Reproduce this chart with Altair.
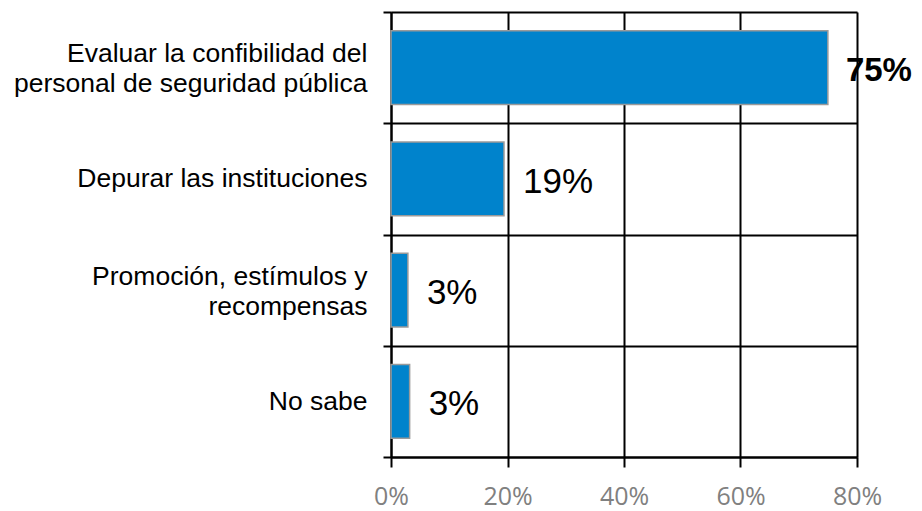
import altair as alt
import pandas as pd

categories = [
    "Evaluar la confibilidad del\npersonal de seguridad pública",
    "Depurar las instituciones",
    "Promoción, estímulos y\nrecompensas",
    "No sabe",
]
values = [0.75, 0.194, 0.029, 0.032]
x_ticks = [0, 0.2, 0.4, 0.6, 0.8]

df = pd.DataFrame({"cat": categories, "val": values})

y_enc = alt.Y(
    "cat:N",
    sort=categories,
    scale=alt.Scale(paddingInner=0, paddingOuter=0),
    axis=alt.Axis(
        title=None,
        labelExpr="datum.value ? split(datum.value, '\\n') : ''",
        labelFont="Liberation Sans",
        labelFontSize=26.5,
        labelLineHeight=30,
        labelColor="#000000",
        labelPadding=16,
        labelLimit=400,
        labelOffset={
            "condition": {
                "test": "datum.value && indexof(datum.value, '\\n') >= 0",
                "value": -14,
            },
            "value": 0,
        },
        tickBand="extent",
        tickSize=8,
        tickColor="#000000",
        tickWidth=2,
        grid=True,
        gridColor="#000000",
        gridWidth=2,
        gridOpacity=1,
        domainColor="#000000",
        domainWidth=2,
    ),
)

x_enc = alt.X(
    "val:Q",
    scale=alt.Scale(domain=[0, 0.8], nice=False, zero=True),
    axis=alt.Axis(
        title=None,
        values=x_ticks,
        format=".0%",
        labelFont="Open Sans",
        labelFontSize=25,
        labelColor="#808080",
        labelPadding=17,
        labelOverlap=False,
        labelBound=False,
        labelFlush=False,
        tickSize=10,
        tickColor="#000000",
        tickWidth=2,
        grid=True,
        gridColor="#000000",
        gridWidth=2,
        gridOpacity=1,
        domainColor="#000000",
        domainWidth=2,
    ),
)

base = alt.Chart(df)

bars = base.mark_bar(
    color="#0083CC", stroke="#9a9a9a", strokeWidth=1.5, height={"band": 0.665}
).encode(x=x_enc, y=y_enc)

labels_normal = base.transform_filter("datum.val <= 0.5").mark_text(
    align="left", baseline="middle", dx=19, dy=3,
    font="Liberation Sans", fontSize=35, color="#000000", fontWeight="normal",
).encode(
    x=alt.X("val:Q"),
    y=alt.Y("cat:N", sort=categories),
    text=alt.Text("val:Q", format=".0%"),
)

labels_bold = base.transform_filter("datum.val > 0.5").mark_text(
    align="left", baseline="middle", dx=18, dy=3,
    font="Liberation Sans", fontSize=33, color="#000000", fontWeight="bold",
).encode(
    x=alt.X("val:Q"),
    y=alt.Y("cat:N", sort=categories),
    text=alt.Text("val:Q", format=".0%"),
)

chart = (
    alt.layer(bars, labels_normal, labels_bold)
    .properties(
        width=466,
        height=445,
        autosize=alt.AutoSizeParams(type="none"),
        padding={"left": 383, "top": 4, "right": 57, "bottom": 54},
    )
    .configure_view(stroke=None)
    .configure(background="#ffffff")
)

chart.save("out.html", embed_options={"renderer": "svg", "actions": False})
